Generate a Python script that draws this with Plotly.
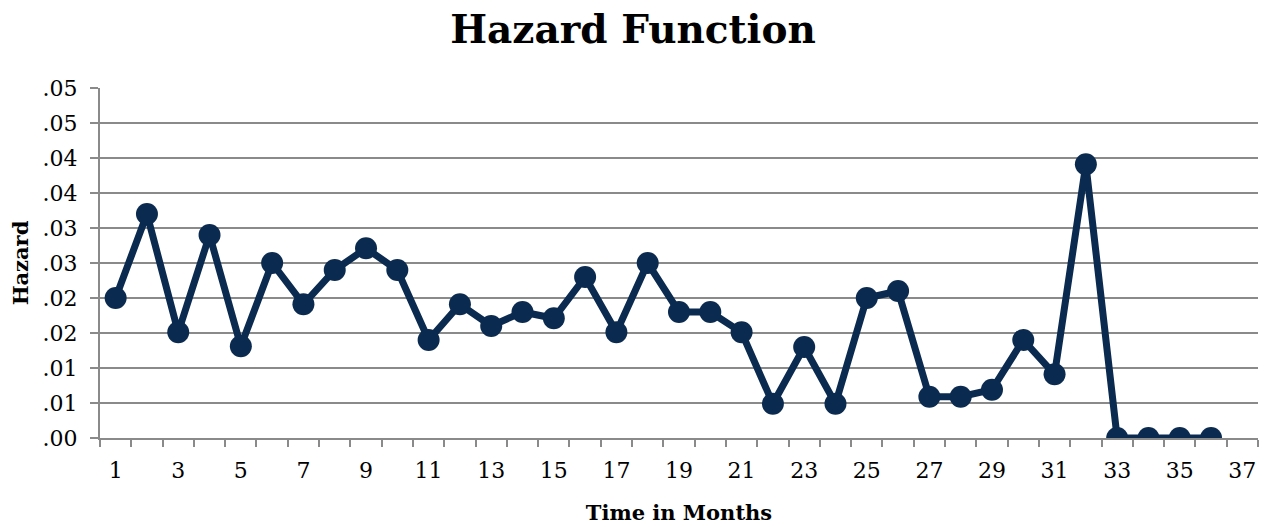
import plotly.graph_objects as go

months = list(range(1, 37))
hazard = [0.0200, 0.0320, 0.0151, 0.0290, 0.0131, 0.0250, 0.0191, 0.0240, 0.0271, 0.0240,
          0.0140, 0.0191, 0.0160, 0.0180, 0.0171, 0.0230, 0.0151, 0.0250, 0.0180, 0.0180,
          0.0151, 0.0049, 0.0130, 0.0049, 0.0200, 0.0210, 0.0059, 0.0059, 0.0069, 0.0140,
          0.0091, 0.0391, 0.0, 0.0, 0.0, 0.0]
x_labels = list(range(1, 38, 2))
y_tickvals = [0, 0.005, 0.01, 0.015, 0.02, 0.025, 0.03, 0.035, 0.04, 0.045, 0.05]
y_ticktext = [".00", ".01", ".01", ".02", ".02", ".03", ".03", ".04", ".04", ".05", ".05"]

navy = "#0b2a4f"
grid = "#8a8a8a"
font_family = "DejaVu Serif, Liberation Serif, serif"

fig = go.Figure()
fig.add_trace(go.Scatter(
    x=months, y=hazard, mode="lines+markers",
    line=dict(color=navy, width=7),
    marker=dict(color=navy, size=22),
    showlegend=False,
))

fig.update_layout(
    width=1266, height=527,
    margin=dict(l=100, r=8, t=88, b=89),
    paper_bgcolor="white", plot_bgcolor="white",
    font=dict(family=font_family, color="black"),
    title=dict(text="<b>Hazard Function</b>", x=0.5, xanchor="center",
               y=1 - 29 / 527, yanchor="middle", yref="container",
               font=dict(size=39, family=font_family)),
)
fig.update_xaxes(
    range=[0.5, 37.5], tickvals=x_labels, ticktext=[str(v) for v in x_labels],
    ticks="", showgrid=False, zeroline=False, automargin=False,
    showline=True, linecolor=grid, linewidth=2,
    tickfont=dict(size=22), ticklabelstandoff=12,
    minor=dict(ticks="outside", tick0=0.5, dtick=1, ticklen=7, tickcolor=grid, tickwidth=2, showgrid=False),
    title=dict(text="<b>Time in Months</b>", font=dict(size=21), standoff=23),
)
fig.update_yaxes(
    range=[0, 0.05], tickvals=y_tickvals, ticktext=y_ticktext,
    ticks="outside", ticklen=8, tickcolor=grid, tickwidth=2,
    showgrid=True, gridcolor=grid, gridwidth=2, zeroline=False, automargin=False,
    showline=True, linecolor=grid, linewidth=2,
    tickfont=dict(size=22), ticklabelstandoff=8,
    title=dict(text="<b>Hazard</b>", font=dict(size=21), standoff=8),
)

fig.write_html("out.html")
